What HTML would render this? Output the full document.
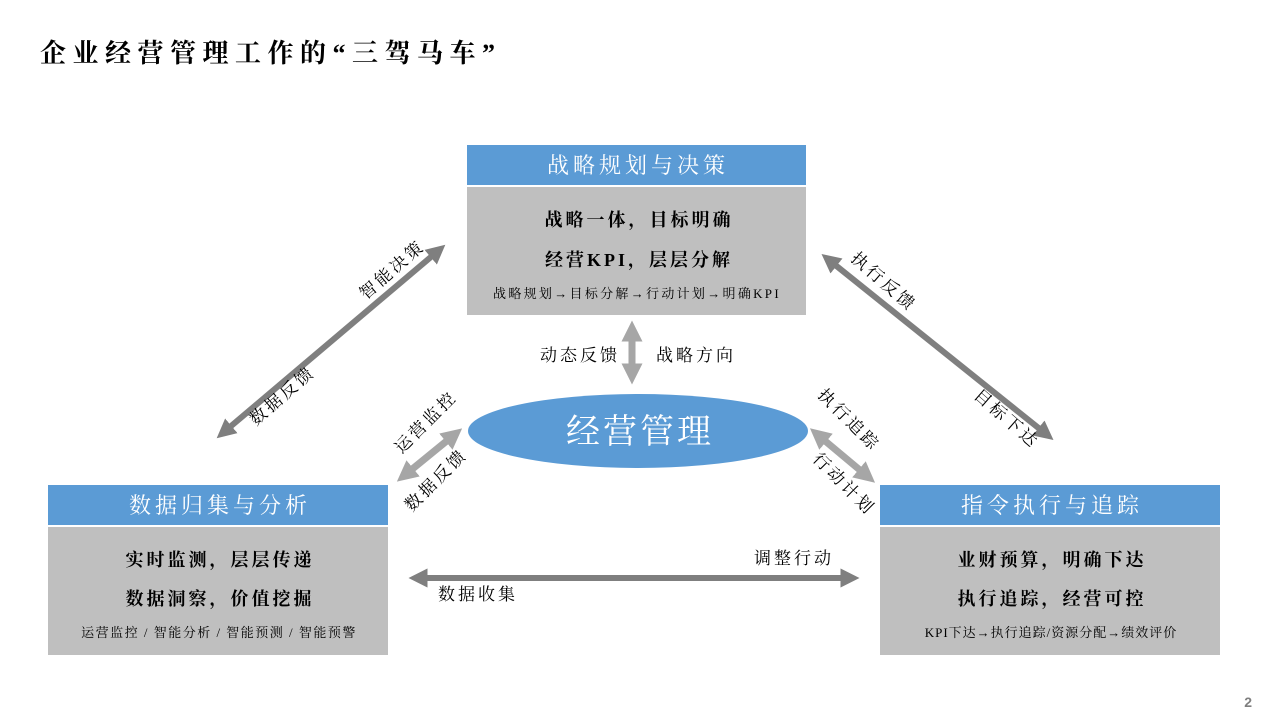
<!DOCTYPE html>
<html><head><meta charset="utf-8"><style>
body{margin:0;width:1280px;height:720px;background:#fff;overflow:hidden}
svg text{font-family:"Liberation Serif","Noto Serif CJK SC",serif}
</style></head><body>
<svg width="1280" height="720" viewBox="0 0 1280 720" xmlns="http://www.w3.org/2000/svg">
<defs>
<marker id="hd" viewBox="0 0 10 10" refX="5" refY="5" markerWidth="3.2" markerHeight="3.2" orient="auto-start-reverse"><path d="M0,0L10,5L0,10z" fill="#7f7f7f"/></marker>
<marker id="hl" viewBox="0 0 10 10" refX="5" refY="5" markerWidth="3" markerHeight="3" orient="auto-start-reverse"><path d="M0,0L10,5L0,10z" fill="#a6a6a6"/></marker>
</defs>
<text x="40" y="62" font-size="26" font-weight="bold" fill="#000" letter-spacing="6.5">企业经营管理工作的“三驾马车”</text>

<!-- top box -->
<rect x="467" y="145" width="339" height="40" fill="#5b9bd5"/>
<text x="638" y="173" font-size="22" fill="#fff" text-anchor="middle" letter-spacing="4">战略规划与决策</text>
<rect x="467" y="187" width="339" height="128" fill="#bfbfbf"/>
<text x="639" y="226" font-size="18" font-weight="bold" text-anchor="middle" letter-spacing="3">战略一体，目标明确</text>
<text x="639" y="266" font-size="18" font-weight="bold" text-anchor="middle" letter-spacing="3">经营KPI，层层分解</text>
<text x="637" y="298" font-size="13" text-anchor="middle" letter-spacing="2.3">战略规划→目标分解→行动计划→明确KPI</text>

<!-- left box -->
<rect x="48" y="485" width="340" height="40" fill="#5b9bd5"/>
<text x="220" y="513" font-size="22" fill="#fff" text-anchor="middle" letter-spacing="4">数据归集与分析</text>
<rect x="48" y="527" width="340" height="128" fill="#bfbfbf"/>
<text x="220" y="566" font-size="18" font-weight="bold" text-anchor="middle" letter-spacing="3">实时监测，层层传递</text>
<text x="220" y="605" font-size="18" font-weight="bold" text-anchor="middle" letter-spacing="3">数据洞察，价值挖掘</text>
<text x="219" y="637" font-size="13" text-anchor="middle" letter-spacing="1.5">运营监控 / 智能分析 / 智能预测 / 智能预警</text>

<!-- right box -->
<rect x="880" y="485" width="340" height="40" fill="#5b9bd5"/>
<text x="1052" y="513" font-size="22" fill="#fff" text-anchor="middle" letter-spacing="4">指令执行与追踪</text>
<rect x="880" y="527" width="340" height="128" fill="#bfbfbf"/>
<text x="1052" y="566" font-size="18" font-weight="bold" text-anchor="middle" letter-spacing="3">业财预算，明确下达</text>
<text x="1052" y="605" font-size="18" font-weight="bold" text-anchor="middle" letter-spacing="3">执行追踪，经营可控</text>
<text x="1051" y="637" font-size="13" text-anchor="middle" letter-spacing="1">KPI下达→执行追踪/资源分配→绩效评价</text>

<!-- ellipse -->
<ellipse cx="638" cy="431" rx="170" ry="37" fill="#5b9bd5"/>
<text x="640" y="443" font-size="34" fill="#fff" text-anchor="middle" letter-spacing="3">经营管理</text>

<!-- arrows -->
<line x1="224" y1="432" x2="438" y2="251" stroke="#7f7f7f" stroke-width="6" marker-start="url(#hd)" marker-end="url(#hd)"/>
<line x1="829" y1="260" x2="1046" y2="434" stroke="#7f7f7f" stroke-width="6" marker-start="url(#hd)" marker-end="url(#hd)"/>
<line x1="418" y1="578" x2="850" y2="578" stroke="#7f7f7f" stroke-width="6" marker-start="url(#hd)" marker-end="url(#hd)"/>
<line x1="632" y1="331" x2="632" y2="374" stroke="#a6a6a6" stroke-width="7" marker-start="url(#hl)" marker-end="url(#hl)"/>
<line x1="405" y1="475" x2="454" y2="435" stroke="#a6a6a6" stroke-width="7" marker-start="url(#hl)" marker-end="url(#hl)"/>
<line x1="818" y1="435" x2="867" y2="476" stroke="#a6a6a6" stroke-width="7" marker-start="url(#hl)" marker-end="url(#hl)"/>

<!-- labels -->
<g font-size="17" fill="#000" text-anchor="middle" letter-spacing="3">
<text transform="translate(396,274) rotate(-41)">智能决策</text>
<text transform="translate(286,400) rotate(-41)">数据反馈</text>
<text transform="translate(880,286) rotate(41)">执行反馈</text>
<text transform="translate(1003,423) rotate(41)">目标下达</text>
<text x="580" y="361">动态反馈</text>
<text x="696" y="361">战略方向</text>
<text transform="translate(430,426) rotate(-45)">运营监控</text>
<text transform="translate(440,484) rotate(-45)">数据反馈</text>
<text transform="translate(845,424) rotate(45)">执行追踪</text>
<text transform="translate(840,488) rotate(45)">行动计划</text>
<text x="794" y="564">调整行动</text>
<text x="478" y="600">数据收集</text>
</g>
<text x="1252" y="707" font-size="14" fill="#7f7f7f" style="font-family:'Liberation Sans',sans-serif" font-weight="bold" text-anchor="end">2</text>
</svg>
</body></html>
